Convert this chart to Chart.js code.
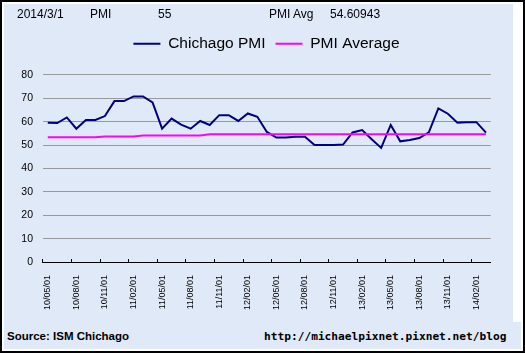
<!DOCTYPE html>
<html>
<head>
<meta charset="utf-8">
<script src="https://cdn.jsdelivr.net/npm/chart.js@4"></script>
<style>
  body { margin:0; background:#fff; font-family:'Liberation Sans', Arial, sans-serif; color:#000; }
  #frame { position:absolute; left:0; top:0; width:525px; height:353px; box-sizing:border-box; border:2px solid #000; background:#fff; }
  #panel { position:absolute; left:4px; top:4px; width:517px; height:345px; background:#e0e9f8; }
  #strip { position:absolute; left:513px; top:4px; width:8px; height:318px; background:#fff; }
  #chartBox { position:absolute; left:4px; top:4px; width:509px; height:318px; }
  .t { position:absolute; white-space:nowrap; line-height:1; }
  .hd { font-size:12px; top:8px; }
  .ft { top:331px; font-weight:bold; }
</style>
</head>
<body>
<div id="frame"></div>
<div id="panel"></div>
<div id="strip"></div>
<div id="chartBox"><canvas id="pmiChart" width="509" height="318"></canvas></div>

<span class="t hd" style="left:17px">2014/3/1</span>
<span class="t hd" style="left:90px">PMI</span>
<span class="t hd" style="left:158px">55</span>
<span class="t hd" style="left:269px">PMI Avg</span>
<span class="t hd" style="left:330px">54.60943</span>

<span class="t ft" style="left:7px;font-size:11.5px">Source: ISM Chichago</span>
<span class="t ft" style="left:264px;font-size:11.2px;font-family:'DejaVu Sans Mono', monospace">http://michaelpixnet.pixnet.net/blog</span>

<script>
// ---- Data ----
const months = [
  '10/05/01','10/06/01','10/07/01','10/08/01','10/09/01','10/10/01','10/11/01','10/12/01',
  '11/01/01','11/02/01','11/03/01','11/04/01','11/05/01','11/06/01','11/07/01','11/08/01',
  '11/09/01','11/10/01','11/11/01','11/12/01','12/01/01','12/02/01','12/03/01','12/04/01',
  '12/05/01','12/06/01','12/07/01','12/08/01','12/09/01','12/10/01','12/11/01','12/12/01',
  '13/01/01','13/02/01','13/03/01','13/04/01','13/05/01','13/06/01','13/07/01','13/08/01',
  '13/09/01','13/10/01','13/11/01','13/12/01','14/01/01','14/02/01','14/03/01'
];
const pmiValues = [
  59.5, 59.4, 61.8, 57.0, 60.7, 60.7, 62.4, 68.8, 68.8, 70.8, 70.8, 68.2,
  57.0, 61.3, 58.7, 57.0, 60.3, 58.6, 62.8, 62.8, 60.3, 63.5, 62.1, 55.6,
  53.2, 53.2, 53.6, 53.6, 50.0, 50.0, 50.0, 50.2, 55.4, 56.4, 52.5, 48.8,
  58.6, 51.6, 52.2, 53.0, 55.4, 65.7, 63.4, 59.6, 59.8, 59.8, 55.3
];
const avgValues = [
  53.3, 53.3, 53.3, 53.3, 53.3, 53.3, 53.7, 53.7, 53.7, 53.7, 54.1, 54.1,
  54.1, 54.1, 54.1, 54.1, 54.1, 54.6, 54.6, 54.6, 54.6, 54.6, 54.6, 54.6,
  54.6, 54.6, 54.6, 54.6, 54.6, 54.6, 54.6, 54.6, 54.6, 54.6, 54.6, 54.6,
  54.6, 54.6, 54.6, 54.6, 54.6, 54.6, 54.6, 54.6, 54.6, 54.6, 54.61
];
const yTicks = { min: 0, max: 80, step: 10 };
const labelEvery = 3;

Chart.defaults.color = '#000';
Chart.defaults.font.family = "'Liberation Sans', Arial, sans-serif";

// legend sits a bit right of centre and further from the plot
const legendPlacement = {
  id: 'legendPlacement',
  beforeInit(chart) {
    const fit = chart.legend.fit;
    chart.legend.fit = function () {
      fit.bind(chart.legend)();
      this.height += 13.4;
    };
  },
  afterLayout(chart) {
    chart.legend.left += 11;
    chart.legend.right += 11;
  }
};

new Chart(document.getElementById('pmiChart'), {
  type: 'line',
  data: {
    labels: months,
    datasets: [
      { label: 'Chichago PMI', data: pmiValues, borderColor: '#000080', backgroundColor: '#000080',
        borderWidth: 2, pointRadius: 0, tension: 0, order: 1 },
      { label: 'PMI Average', data: avgValues, borderColor: '#ff00ff', backgroundColor: '#ff00ff',
        borderWidth: 2, pointRadius: 0, tension: 0, order: 0 }
    ]
  },
  plugins: [legendPlacement],
  options: {
    responsive: false,
    animation: false,
    layout: { padding: { left: 15, right: 21, top: 22, bottom: 0 } },
    plugins: {
      tooltip: { enabled: false },
      legend: {
        position: 'top',
        labels: {
          usePointStyle: true, pointStyle: 'line', pointStyleWidth: 27,
          padding: 10, font: { size: 15.5 },
          sort: (a, b) => a.datasetIndex - b.datasetIndex
        }
      }
    },
    scales: {
      x: {
        offset: true,
        afterFit: s => { s.height = 60; },
        grid: {
          offset: true, drawOnChartArea: false, tickLength: -3,
          tickColor: c => (c.index % labelEvery === 0 ? '#000' : 'rgba(0,0,0,0)')
        },
        border: { color: '#000', width: 1 },
        ticks: {
          autoSkip: false, minRotation: 90, maxRotation: 90, padding: 16,
          font: { size: 9 },
          callback: (v, i) => (i % labelEvery === 0 ? months[i] : '')
        }
      },
      y: {
        min: yTicks.min, max: yTicks.max,
        afterFit: s => { s.width = 24; },
        grid: {
          drawTicks: false,
          color: c => (c.tick && c.tick.value === 0 ? 'rgba(0,0,0,0)' : '#999')
        },
        border: { display: false },
        ticks: { stepSize: yTicks.step, padding: 10, font: { size: 10.5 } }
      }
    }
  }
});
</script>
</body>
</html>
